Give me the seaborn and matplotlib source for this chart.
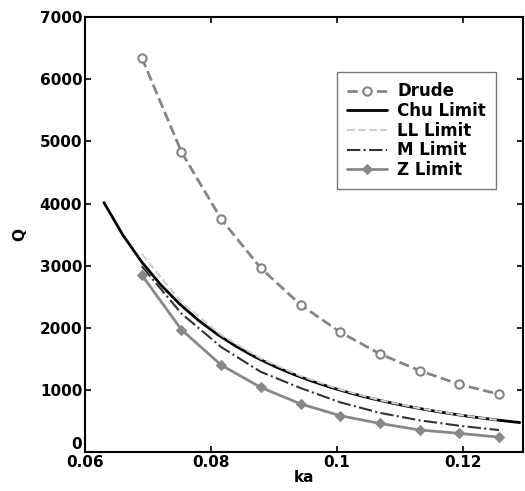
import numpy as np
import pandas as pd
import matplotlib
matplotlib.use("Agg")
import matplotlib.pyplot as plt
import seaborn as sns

# sampled ka points (Drude / Z / LL / M share the same grid)
ka_grid = [0.0690, 0.0753, 0.0816, 0.0879, 0.0942, 0.1005, 0.1068, 0.1131, 0.1194, 0.1257]
q_drude = [6350, 4830, 3750, 2960, 2370, 1930, 1580, 1310, 1090, 930]
q_ll = [3190, 2410, 1885, 1505, 1225, 1005, 835, 703, 598, 512]
q_m = [2990, 2230, 1690, 1290, 1030, 800, 630, 510, 423, 353]
q_z = [2850, 1970, 1400, 1040, 775, 585, 460, 355, 300, 240]

# Chu limit curve
ka_chu = [0.063, 0.066, 0.069, 0.072, 0.075, 0.078, 0.081, 0.084, 0.087, 0.090,
          0.093, 0.096, 0.099, 0.102, 0.105, 0.108, 0.111, 0.114, 0.117, 0.120,
          0.123, 0.126, 0.129]
q_chu = [4015, 3493, 3059, 2693, 2384, 2120, 1894, 1699, 1530, 1383,
         1254, 1141, 1041, 952, 873, 803, 740, 684, 633, 587,
         546, 508, 474]

sns.set_style("ticks")
plt.rcParams["font.family"] = ["DejaVu Sans"]
plt.rcParams["font.weight"] = "bold"
for key in ["text.color", "axes.labelcolor", "xtick.color", "ytick.color",
            "axes.edgecolor"]:
    plt.rcParams[key] = "black"

fig = plt.figure(figsize=(5.25, 4.91), dpi=100)
ax = fig.add_axes([0.162, 0.0794, 0.834, 0.8856])

sns.lineplot(x=ka_grid, y=q_drude, ax=ax, color="#858585", linestyle="--", lw=2,
             marker="o", markersize=6, markerfacecolor="white",
             markeredgecolor="#858585", markeredgewidth=1.5, label="Drude")
sns.lineplot(x=ka_chu, y=q_chu, ax=ax, color="black", lw=2, label="Chu Limit")
sns.lineplot(x=ka_grid, y=q_ll, ax=ax, color="#cfcfcf", linestyle="--", lw=1.5,
             label="LL Limit")
sns.lineplot(x=ka_grid, y=q_m, ax=ax, color="#333333", linestyle="-.", lw=1.5,
             label="M Limit")
sns.lineplot(x=ka_grid, y=q_z, ax=ax, color="#888888", lw=2, marker="D",
             markersize=5, markerfacecolor="#888888", markeredgecolor="#888888",
             label="Z Limit")

ax.set_xlim(0.06, 0.1295)
ax.set_ylim(0, 7000)
ax.set_xticks([0.06, 0.08, 0.1, 0.12])
ax.set_xticklabels(["0.06", "0.08", "0.1", "0.12"])
ax.set_yticks(range(0, 7001, 1000))
ax.tick_params(direction="in", length=4, width=1.2, top=True, right=True,
               labelsize=11, pad=2)
for lbl in ax.get_xticklabels() + ax.get_yticklabels():
    lbl.set_fontweight("bold")
# the "0" on the y axis sits just above the x tick labels
ax.get_yticklabels()[0].set_verticalalignment("bottom")
for sp in ax.spines.values():
    sp.set_visible(True)
    sp.set_linewidth(1.5)

ax.set_xlabel("ka", fontsize=11, fontweight="bold", labelpad=0)
ax.set_ylabel("Q", fontsize=11, fontweight="bold", labelpad=9)

leg = ax.legend(loc="upper right", bbox_to_anchor=(0.938, 0.873), fontsize=12,
                frameon=True, fancybox=False, edgecolor="#555555",
                handlelength=2.4, borderpad=0.6, labelspacing=0.1,
                handletextpad=0.6, borderaxespad=0)
leg.get_frame().set_linewidth(1.0)
for t in leg.get_texts():
    t.set_fontweight("bold")

fig.savefig("out.png", dpi=100)
